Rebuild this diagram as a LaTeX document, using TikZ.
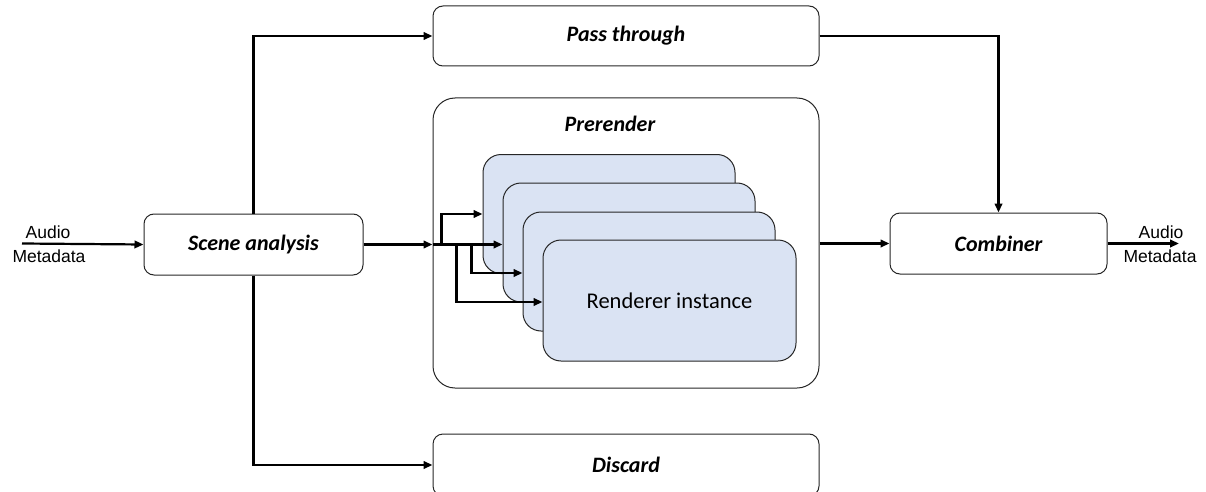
\documentclass[tikz,border=0pt]{standalone}
\usepackage{fontspec}
\setmainfont{Carlito}
\newfontfamily\arialf{Liberation Sans}
\usetikzlibrary{arrows.meta}
\definecolor{rfill}{HTML}{DAE3F3}
\tikzset{
  lbl/.style={font=\fontsize{22}{26}\selectfont\bfseries\itshape},
  box/.style={draw=black!85, line width=1pt, rounded corners=10pt, inner sep=0pt, lbl},
  bigbox/.style={draw=black!85, line width=1pt, rounded corners=22pt, inner sep=0pt},
  rbox/.style={draw=black!85, line width=1pt, fill=rfill, rounded corners=18pt, inner sep=0pt, minimum width=252pt, minimum height=119pt, font=\fontsize{22.5}{26}\selectfont},
  conn/.style={draw=black, line width=2.2pt, -{Triangle[length=9pt,width=7.5pt]}},
  io/.style={font=\arialf\fontsize{17.5}{20}\selectfont, inner sep=0pt},
}
\begin{document}
\begin{tikzpicture}[x=1pt,y=-1pt]
\useasboundingbox (0,0) rectangle (1206,492);
% boxes
\node[box, minimum width=219pt, minimum height=61pt] (scene) at (253.5,244.5) {Scene analysis};
\node[box, minimum width=386pt, minimum height=60pt] (pass) at (626,36) {Pass through};
\node[bigbox, minimum width=386pt, minimum height=290pt] (prer) at (626,243) {};
\node[lbl, inner sep=0pt] (prerlabel) at (610,124) {Prerender};
\node[box, minimum width=386pt, minimum height=62pt] (disc) at (626,465) {Discard};
\node[box, minimum width=217pt, minimum height=61pt] (comb) at (998.5,243.5) {Combiner};
% renderer instances
\node[rbox] (r1) at (609,214) {};
\node[rbox] (r2) at (629,242.5) {};
\node[rbox] (r3) at (649,271.5) {};
\node[rbox, minimum width=253pt, minimum height=121pt] (r4) at (669.5,300.5) {Renderer instance};
% input / output
\coordinate (inL) at (22,243.5);
\coordinate (outR) at (1179,243.5);
\node[io] (ina) at (48,232) {Audio};
\node[io] (inm) at (49,256) {Metadata};
\node[io] (outa) at (1161,232) {Audio};
\node[io] (outm) at (1160,256) {Metadata};
\draw[conn] (inL) -- (scene.west);
\draw[conn] (comb.east) -- (outR);
% main connectors
\draw[conn] (scene.north) |- (pass.west);
\draw[conn] (scene.south) |- (disc.west);
\draw[conn] (pass.east) -| (comb.north);
\draw[conn] (prer.east |- comb.west) -- (comb.west);
\coordinate (j0) at (scene.east -| prer.west);
\draw[conn] (scene.east) -- (j0);
% fan-out
\draw[conn] (j0) -- (j0 -| r2.west);
\draw[conn] ([xshift=9pt]j0) |- (r1.west);
\draw[conn] ([xshift=39pt]j0) |- ([yshift=-1.5pt]r3.west);
\draw[conn] ([xshift=24pt]j0) |- ([yshift=-1.5pt]r4.west);
\end{tikzpicture}
\end{document}
